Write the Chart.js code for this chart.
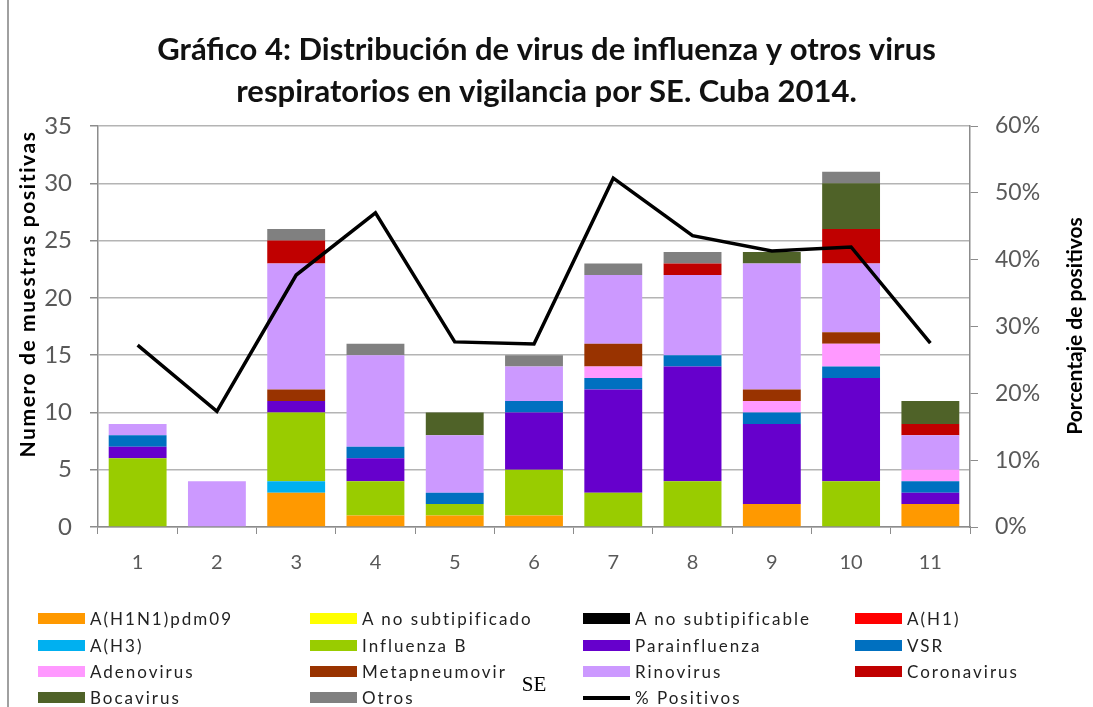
<!DOCTYPE html>
<html lang="es">
<head>
<meta charset="UTF-8">
<title>Gráfico 4: Distribución de virus respiratorios. Cuba 2014</title>
<script src="https://cdn.jsdelivr.net/npm/chart.js"></script>
<style>
  body { margin: 0; background: #fff; }
  #wrap { position: relative; width: 1093px; height: 707px; overflow: hidden; }
  #frame { position: absolute; left: 7px; top: 0; height: 707px; border-left: 2px solid #a0a0a0; }
  #legend .item { position: absolute; height: 20px; font: 17px Lato, sans-serif; letter-spacing: 2px; color: #222; white-space: nowrap; }
  #legend .sw { position: absolute; left: 0; top: 4px; width: 47px; height: 11px; }
  #legend .txt { position: absolute; left: 52px; top: 0; line-height: 20px; }
</style>
</head>
<body>
<div id="wrap">
  <canvas id="chart" width="1093" height="707"></canvas>
  <div id="frame"></div>
  <div id="legend"></div>
</div>
<script>
var semanas = ['1', '2', '3', '4', '5', '6', '7', '8', '9', '10', '11'];

var h1n1pdm09       = [0, 0, 3, 1, 1, 1, 0, 0, 2, 0, 2];
var aNoSubtipificado = [0, 0, 0, 0, 0, 0, 0, 0, 0, 0, 0];
var aNoSubtipificable = [0, 0, 0, 0, 0, 0, 0, 0, 0, 0, 0];
var aH1             = [0, 0, 0, 0, 0, 0, 0, 0, 0, 0, 0];
var aH3             = [0, 0, 1, 0, 0, 0, 0, 0, 0, 0, 0];
var influenzaB      = [6, 0, 6, 3, 1, 4, 3, 4, 0, 4, 0];
var parainfluenza   = [1, 0, 1, 2, 0, 5, 9, 10, 7, 9, 1];
var vsr             = [1, 0, 0, 1, 1, 1, 1, 1, 1, 1, 1];
var adenovirus      = [0, 0, 0, 0, 0, 0, 1, 0, 1, 2, 1];
var metapneumovirus = [0, 0, 1, 0, 0, 0, 2, 0, 1, 1, 0];
var rinovirus       = [1, 4, 11, 8, 5, 3, 6, 7, 11, 6, 3];
var coronavirus     = [0, 0, 2, 0, 0, 0, 0, 1, 0, 3, 1];
var bocavirus       = [0, 0, 0, 0, 2, 0, 0, 0, 1, 4, 2];
var otros           = [0, 0, 1, 1, 0, 1, 1, 1, 0, 1, 0];

var pctPositivos = [27.2, 17.3, 37.7, 47.0, 27.7, 27.4, 52.2, 43.6, 41.3, 41.9, 27.5];

var yTicks = [0, 5, 10, 15, 20, 25, 30, 35];
var pctTicks = [0, 10, 20, 30, 40, 50, 60];

var series = [
  ['A(H1N1)pdm09', h1n1pdm09, '#ff9900'],
  ['A no subtipificado', aNoSubtipificado, '#ffff00'],
  ['A no subtipificable', aNoSubtipificable, '#000000'],
  ['A(H1)', aH1, '#ff0000'],
  ['A(H3)', aH3, '#00b0f0'],
  ['Influenza B', influenzaB, '#99cc00'],
  ['Parainfluenza', parainfluenza, '#6600cc'],
  ['VSR', vsr, '#0070c0'],
  ['Adenovirus', adenovirus, '#ff99ff'],
  ['Metapneumovir', metapneumovirus, '#993300'],
  ['Rinovirus', rinovirus, '#cc99ff'],
  ['Coronavirus', coronavirus, '#c00000'],
  ['Bocavirus', bocavirus, '#4f6228'],
  ['Otros', otros, '#808080']
];

var datasets = series.map(function (s) {
  return {
    type: 'bar', label: s[0], data: s[1], backgroundColor: s[2],
    yAxisID: 'y', order: 1, barPercentage: 0.73, categoryPercentage: 1
  };
});
datasets.push({
  type: 'line', label: '% Positivos', data: pctPositivos, yAxisID: 'y1',
  borderColor: '#000', borderWidth: 3.5, pointRadius: 0, tension: 0, order: 0
});

// rotated axis titles (both read bottom-to-top)
function drawVertical(ctx, text, x, y, spacing) {
  ctx.save();
  ctx.fillStyle = '#000';
  ctx.textAlign = 'center';
  ctx.textBaseline = 'middle';
  ctx.font = 'bold 21px Lato';
  ctx.letterSpacing = spacing;
  ctx.translate(x, y);
  ctx.rotate(-Math.PI / 2);
  ctx.fillText(text, 0, 0);
  ctx.restore();
}
var axisTitles = {
  id: 'axisTitles',
  afterDraw: function (chart) {
    drawVertical(chart.ctx, 'Numero de muestras positivas', 28, 294, '1.6px');
    drawVertical(chart.ctx, 'Porcentaje de positivos', 1075, 326, '0px');
  }
};

var chart = new Chart(document.getElementById('chart'), {
  data: { labels: semanas, datasets: datasets },
  options: {
    responsive: false,
    devicePixelRatio: 1,
    animation: false,
    layout: { padding: 0 },
    plugins: {
      legend: { display: false },
      tooltip: { enabled: false },
      title: {
        display: true,
        text: ['Gráfico 4: Distribución de virus de influenza y otros virus',
               'respiratorios en vigilancia por SE. Cuba 2014.'],
        color: '#111',
        font: { family: 'Lato', size: 31, weight: 'bold', lineHeight: 1.355 },
        padding: { top: 29, bottom: 13 }
      }
    },
    scales: {
      x: {
        stacked: true,
        afterFit: function (s) { s.height = 180; },
        grid: { drawOnChartArea: false, tickLength: 7, color: '#8c8c8c', lineWidth: 1 },
        border: { color: '#8c8c8c', width: 1.5 },
        ticks: { color: '#595959', font: { family: 'Lato', size: 20 }, padding: 17 },
        title: {
          display: true, text: 'SE', color: '#000',
          font: { family: 'Liberation Serif', size: 21 },
          padding: { top: 0, bottom: 9 }
        }
      },
      y: {
        stacked: true,
        min: 0, max: 35,
        afterFit: function (s) { s.width = 98; },
        afterBuildTicks: function (s) { s.ticks = yTicks.map(function (v) { return { value: v }; }); },
        grid: { color: '#b4b4b4', lineWidth: 1.5, tickLength: 8, tickColor: '#8c8c8c' },
        border: { color: '#8c8c8c', width: 1.5 },
        ticks: { color: '#595959', font: { family: 'Lato', size: 24 }, padding: 18 }
      },
      y1: {
        position: 'right',
        min: 0, max: 60,
        afterFit: function (s) { s.width = 123; },
        afterBuildTicks: function (s) { s.ticks = pctTicks.map(function (v) { return { value: v }; }); },
        grid: { drawOnChartArea: false, tickLength: 8, color: '#8c8c8c' },
        border: { color: '#8c8c8c', width: 1.5 },
        ticks: {
          color: '#595959', font: { family: 'Lato', size: 23 }, padding: 17,
          callback: function (v) { return v + '%'; }
        }
      }
    }
  },
  plugins: [axisTitles]
});

// legend in 4 fixed columns, built from the chart's datasets
var legend = document.getElementById('legend');
var colX = [38, 310, 583, 855];
var rowY = [619, 646, 672, 698];
chart.data.datasets.forEach(function (ds, i) {
  var item = document.createElement('div');
  item.className = 'item';
  item.style.left = colX[i % 4] + 'px';
  item.style.top = (rowY[Math.floor(i / 4)] - 10) + 'px';
  var sw = document.createElement('span');
  sw.className = 'sw';
  if (ds.type === 'line') {
    sw.style.top = '8px';
    sw.style.height = '4px';
    sw.style.background = ds.borderColor;
  } else {
    sw.style.background = ds.backgroundColor;
  }
  var txt = document.createElement('span');
  txt.className = 'txt';
  txt.textContent = ds.label;
  item.appendChild(sw);
  item.appendChild(txt);
  legend.appendChild(item);
});
</script>
</body>
</html>
